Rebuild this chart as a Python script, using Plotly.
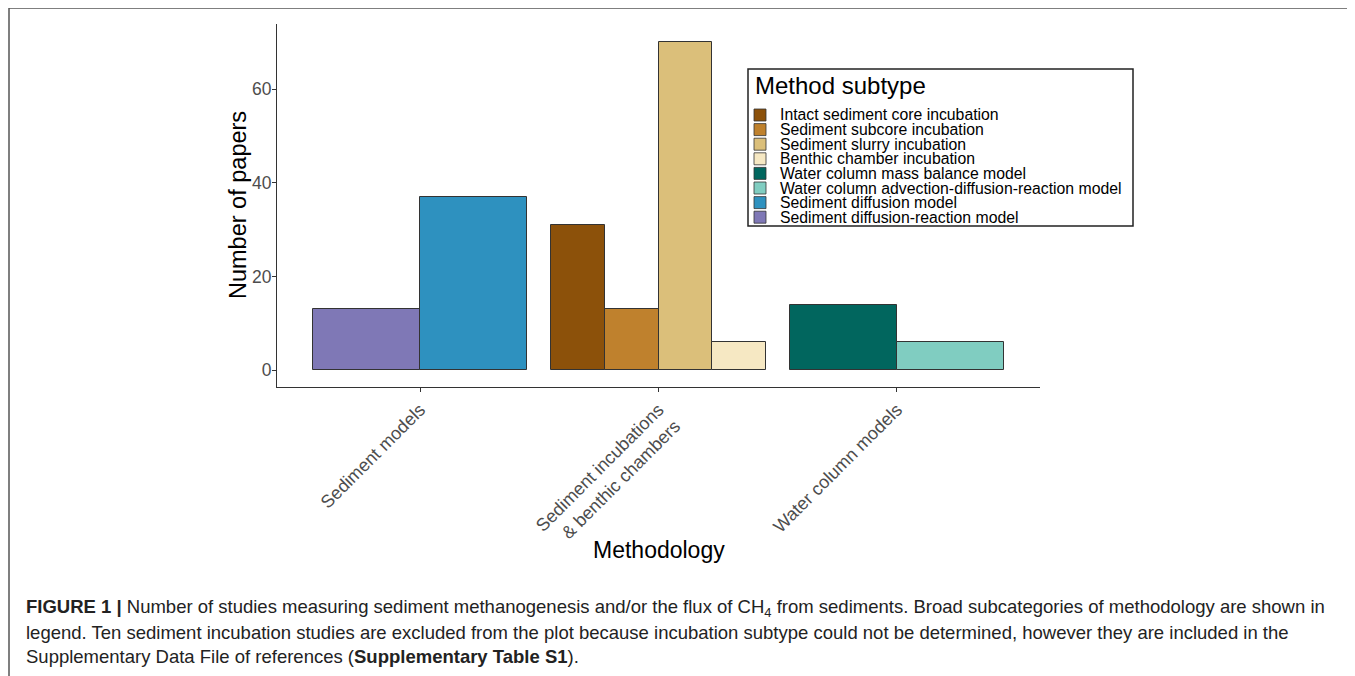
import plotly.graph_objects as go

# ---- data ----
categories = ["Sediment models", "Sediment incubations<br>& benthic chambers", "Water column models"]
subtypes = [
    "Intact sediment core incubation",
    "Sediment subcore incubation",
    "Sediment slurry incubation",
    "Benthic chamber incubation",
    "Water column mass balance model",
    "Water column advection-diffusion-reaction model",
    "Sediment diffusion model",
    "Sediment diffusion-reaction model",
]
subtype_counts = [31, 13, 70, 6, 14, 6, 37, 13]
subtype_colors = ["#8C510A", "#BF812D", "#DBBF7A", "#F6E8C3",
                  "#01665E", "#80CDC1", "#2E91BF", "#7F78B6"]
# order of bars within each category (left to right)
group_order = {
    0: ["Sediment diffusion-reaction model", "Sediment diffusion model"],
    1: ["Intact sediment core incubation", "Sediment subcore incubation",
        "Sediment slurry incubation", "Benthic chamber incubation"],
    2: ["Water column mass balance model", "Water column advection-diffusion-reaction model"],
}
y_ticks = [0, 20, 40, 60]

OFF = 8  # page body margin
W, H = 1355 - OFF, 676 - OFF
L, R, T, B = 277, 1040, 24, 387  # plot area in screen pixels
GROUP_W = 0.9

def px(x):
    return (x - L) / (R - L)

def py(y):
    return (B - y) / (B - T)

fig = go.Figure()
for ci in range(len(categories)):
    names = group_order[ci]
    n = len(names)
    w = GROUP_W / n
    for j, name in enumerate(names):
        k = subtypes.index(name)
        xpos = ci - GROUP_W / 2 + (j + 0.5) * w
        fig.add_trace(go.Bar(
            x=[xpos], y=[subtype_counts[k]], width=[w], name=name,
            marker=dict(color=subtype_colors[k], line=dict(color="#333333", width=1)),
            showlegend=False,
        ))

fig.update_layout(
    width=W, height=H,
    margin=dict(l=L - OFF, r=(1355 - R), t=T - OFF, b=(676 - B)),
    paper_bgcolor="white", plot_bgcolor="white",
    bargap=0,
    font=dict(family="Liberation Sans, Arial, sans-serif", color="#4D4D4D"),
)
fig.update_xaxes(
    range=[-0.6, 2.6], tickvals=list(range(len(categories))), ticktext=categories,
    tickangle=-45, tickfont=dict(size=18, color="#4D4D4D"),
    showline=True, linecolor="#333333", linewidth=1.2,
    ticks="outside", ticklen=4, tickcolor="#333333",
    showgrid=False, zeroline=False,
)
fig.update_yaxes(
    range=[-3.6, 73.9], tickvals=y_ticks,
    tickfont=dict(size=17.5, color="#4D4D4D"),
    ticklabelstandoff=-3,
    showline=True, linecolor="#333333", linewidth=1.2,
    ticks="outside", ticklen=4, tickcolor="#333333",
    showgrid=False, zeroline=False,
)

ann = []
shapes = []
# axis titles
ann.append(dict(text="Methodology", x=px(659), y=py(550), xref="paper", yref="paper",
                showarrow=False, font=dict(size=23, color="black"), xanchor="center", yanchor="middle"))
ann.append(dict(text="Number of papers", x=px(238), y=py(205), xref="paper", yref="paper",
                showarrow=False, textangle=-90, font=dict(size=23.5, color="black"),
                xanchor="center", yanchor="middle"))

# legend box
shapes.append(dict(type="rect", xref="paper", yref="paper",
                   x0=px(748), x1=px(1133), y0=py(226), y1=py(69),
                   line=dict(color="#222222", width=1.5), fillcolor="white", layer="above"))
ann.append(dict(text="Method subtype", x=px(753), y=py(86), xref="paper", yref="paper",
                showarrow=False, font=dict(size=24, color="black"), xanchor="left", yanchor="middle"))
for i, name in enumerate(subtypes):
    yc = 115 + i * 14.6
    shapes.append(dict(type="rect", xref="paper", yref="paper",
                       x0=px(754), x1=px(766), y0=py(yc + 6), y1=py(yc - 6),
                       line=dict(color="#333333", width=0.8), fillcolor=subtype_colors[i], layer="above"))
    ann.append(dict(text=name, x=px(778), y=py(yc), xref="paper", yref="paper",
                    showarrow=False, font=dict(size=15.8, color="black"),
                    xanchor="left", yanchor="middle"))

# figure border (top, left, right)
border = dict(color="#555555", width=1.5)
shapes.append(dict(type="line", xref="paper", yref="paper", x0=px(9), x1=px(1353), y0=py(8), y1=py(8), line=border))
shapes.append(dict(type="line", xref="paper", yref="paper", x0=px(9), x1=px(9), y0=py(8), y1=py(690), line=border))
shapes.append(dict(type="line", xref="paper", yref="paper", x0=px(1353), x1=px(1353), y0=py(8), y1=py(690), line=border))

caption = [
    "<b>FIGURE 1 |</b> Number of studies measuring sediment methanogenesis and/or the flux of CH<sub>4</sub> from sediments. Broad subcategories of methodology are shown in",
    "legend. Ten sediment incubation studies are excluded from the plot because incubation subtype could not be determined, however they are included in the",
    "Supplementary Data File of references (<b>Supplementary Table S1</b>).",
]
for i, line in enumerate(caption):
    ann.append(dict(text=line, x=px(24), y=py(608 + i * 24.3), xref="paper", yref="paper",
                    showarrow=False, font=dict(size=18.5, color="#222222"),
                    xanchor="left", yanchor="middle", align="left"))

fig.update_layout(annotations=ann, shapes=shapes)
fig.write_html("out.html")
